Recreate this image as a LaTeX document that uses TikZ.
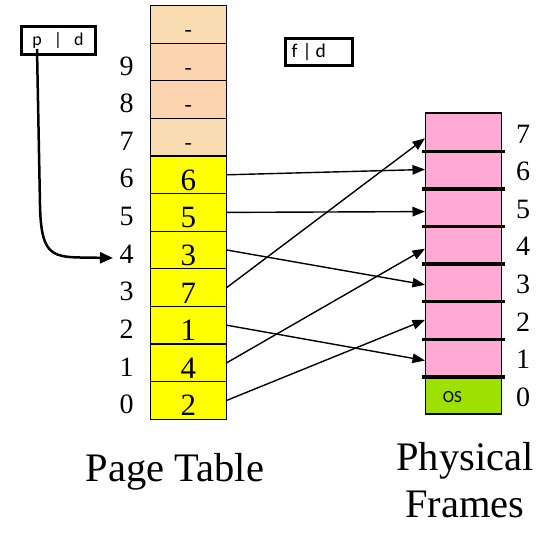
\documentclass[tikz,border=0pt]{standalone}
\usepackage{fontspec}
\setmainfont{Liberation Serif}
\newfontfamily\calib{Carlito}
\usetikzlibrary{arrows.meta}
\definecolor{peachA}{HTML}{FADCB2}
\definecolor{peachB}{HTML}{FDD4B0}
\definecolor{ptyellow}{HTML}{FFFF00}
\definecolor{frpink}{HTML}{FFAAD5}
\definecolor{osgreen}{HTML}{9EE000}
\begin{document}
\begin{tikzpicture}[x=1pt,y=-1pt,
  ptcell/.style={draw, line width=1.2pt, minimum width=75.5pt, minimum height=37.6pt, inner sep=0pt, anchor=north west},
  frcell/.style={draw, line width=1.2pt, minimum width=75.5pt, minimum height=37.6pt, inner sep=0pt, anchor=north west, fill=frpink},
  celltxt/.style={font=\fontsize{31}{31}\selectfont, inner sep=0pt, anchor=base},
  dashtxt/.style={font=\fontsize{22}{22}\selectfont, inner sep=0pt, anchor=base},
  lbl/.style={font=\fontsize{28}{28}\selectfont, inner sep=0pt, anchor=base},
  title/.style={font=\fontsize{40.5}{47}\selectfont, inner sep=0pt, anchor=base, align=center},
  divider/.style={line width=3.5pt},
  arr/.style={line width=1.4pt, -{Triangle[length=12.5pt,width=9.5pt]}},
  curvearr/.style={line width=2.5pt, -{Triangle[length=13pt,width=11pt]}},
  addrbox/.style={draw, line width=3pt, inner sep=0pt}
]
\useasboundingbox (0,0) rectangle (554,537);

% page table
\foreach \i/\c in {10/peachA, 9/peachB, 8/peachB, 7/peachA}{
  \node[ptcell, fill=\c] (pt\i) at (150, {5+(10-\i)*37.6}) {};
  \node[dashtxt] at ([yshift=7pt]pt\i.south) {-};
}
\foreach \i/\t in {6/6, 5/5, 4/3, 3/7, 2/1, 1/4, 0/2}{
  \node[ptcell, fill=ptyellow] (pt\i) at (150, {5+(10-\i)*37.6}) {};
  \node[celltxt] (ptt\i) at ([yshift=4pt]pt\i.south) {\t};
}
\foreach \i in {0,...,9}{
  \node[lbl] (l\i) at (126.5, {5+(11-\i)*37.6-5}) {\i};
}

% physical frames
\foreach \i in {1,...,7}{
  \node[frcell] (fr\i) at (425, {112.5+(7-\i)*37.6}) {};
}
\node[frcell, fill=osgreen] (fr0) at (425, {112.5+7*37.6}) {};
\node[font=\calib\fontsize{17}{17}\selectfont, inner sep=0pt] (os) at ([xshift=-11pt,yshift=-2pt]fr0.center) {OS};
\foreach \i in {1,...,7}{
  \draw[divider] ([xshift=-3pt]fr\i.south west) -- ([xshift=3pt]fr\i.south east);
}
\foreach \i in {0,...,7}{
  \node[lbl] (r\i) at (523, {112.5+(8-\i)*37.6-7}) {\i};
}

% mapping arrows
\draw[arr] (pt6.east) -- (fr6.west);
\draw[arr] (pt5.east) -- ([yshift=-4.5pt]fr5.west);
\draw[arr] (pt4.east) -- ([yshift=-2.5pt]fr3.west);
\draw[arr] (pt3.east) -- ([yshift=-6.4pt]fr7.west);
\draw[arr] (pt2.east) -- ([yshift=-3pt]fr1.west);
\draw[arr] (pt1.east) -- ([yshift=-4pt]fr4.west);
\draw[arr] (pt0.east) -- (fr2.west);

% address boxes
\node[addrbox, minimum width=74pt, minimum height=28pt, font=\calib\fontsize{18}{18}\selectfont] (pd) at (58, 40.2) {p\hspace{12pt}|\hspace{12pt}d};
\node[addrbox, line width=2.5pt, minimum height=27.4pt, text width=55pt, inner xsep=6pt, align=left, font=\calib\fontsize{19.5}{19.5}\selectfont] (fd) at (319.2, 52) {f\hspace{5pt}|\hspace{4pt}d};

% curve from p
\coordinate (pstart) at (37, 49);
\coordinate (pend) at (113, 258);
\draw[curvearr] (pstart) -- (40, 205) .. controls (41, 252) and (50, 257) .. (80, 257.5) -- (pend);

% titles
\node[title] (ptitle) at (175, 481.7) {Page Table};
\node[title] (ftitle1) at (465, 470) {Physical};
\node[title] (ftitle2) at (465, 517) {Frames};
\end{tikzpicture}
\end{document}
